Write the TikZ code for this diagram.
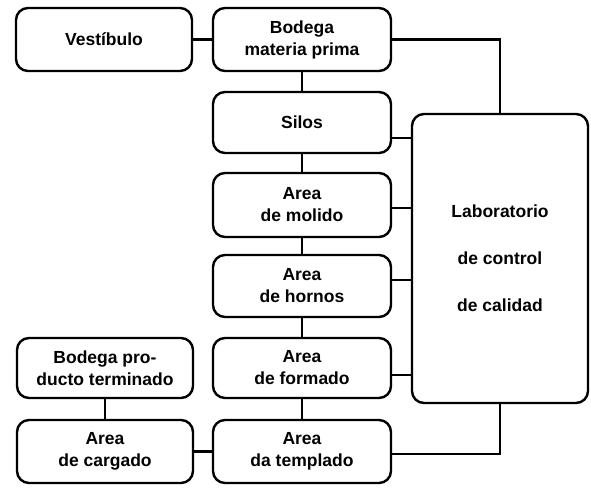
\documentclass[tikz,border=0pt]{standalone}
\usepackage{fontspec}
\setmainfont{Liberation Sans}
\begin{document}
\begin{tikzpicture}[x=1pt,y=-1pt,
  box/.style={draw,line width=2.4pt,rounded corners=12pt,inner sep=0pt,
    align=center,font=\fontsize{17.5}{22}\selectfont\bfseries},
  conn/.style={line width=2.2pt}]
\useasboundingbox (0,0) rectangle (591,487);
\node[box,minimum width=176pt,minimum height=63pt] (vest) at (104,39.5) {Vestíbulo};
\node[box,minimum width=178pt,minimum height=63pt] (bmp) at (302,39.5) {Bodega\\materia prima};
\node[box,minimum width=178pt,minimum height=61pt] (silos) at (302,122.5) {Silos};
\node[box,minimum width=178pt,minimum height=64pt] (molido) at (302,205) {Area\\de molido};
\node[box,minimum width=178pt,minimum height=62pt] (hornos) at (302,286) {Area\\de hornos};
\node[box,minimum width=178pt,minimum height=60pt] (formado) at (302,368) {Area\\de formado};
\node[box,minimum width=178pt,minimum height=63pt] (templado) at (302,451.5) {Area\\da templado};
\node[box,minimum width=176pt,minimum height=60pt] (bpt) at (105,368) {Bodega pro-\\ducto terminado};
\node[box,minimum width=176pt,minimum height=63pt] (cargado) at (105,451.5) {Area\\de cargado};
\node[box,minimum width=176pt,minimum height=289pt,
  font=\fontsize{17.5}{47}\selectfont\bfseries] (lab) at (500,258.5) {Laboratorio\\de control\\de calidad};
\draw[conn] (vest) -- (bmp);
\draw[conn] (bmp) -- (silos);
\draw[conn] (silos) -- (molido);
\draw[conn] (molido) -- (hornos);
\draw[conn] (hornos) -- (formado);
\draw[conn] (formado) -- (templado);
\draw[conn] (bpt) -- (cargado);
\draw[conn] (cargado) -- (templado);
\draw[conn] (bmp.east) -| (lab.north);
\draw[conn] (silos.east |- 0,138) -- (lab.west |- 0,138);
\draw[conn] (molido.east |- 0,208) -- (lab.west |- 0,208);
\draw[conn] (hornos.east |- 0,280) -- (lab.west |- 0,280);
\draw[conn] (formado.east |- 0,375) -- (lab.west |- 0,375);
\draw[conn] (templado.east |- 0,454) -| (lab.south);
\end{tikzpicture}
\end{document}
